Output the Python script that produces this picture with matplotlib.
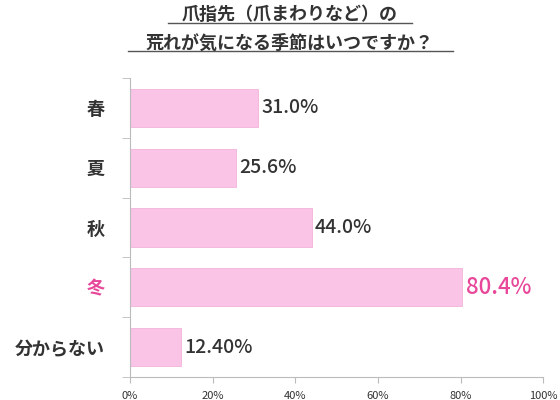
import matplotlib
matplotlib.use("Agg")
import matplotlib.pyplot as plt
from matplotlib.lines import Line2D

plt.rcParams['font.family'] = ['Noto Sans CJK JP', 'DejaVu Sans']

categories = ["春", "夏", "秋", "冬", "分からない"]
values = [31.0, 25.6, 44.0, 80.4, 12.4]
labels = ["31.0%", "25.6%", "44.0%", "80.4%", "12.40%"]
xticks = [0, 20, 40, 60, 80, 100]
xticklabels = ["0%", "20%", "40%", "60%", "80%", "100%"]

pink = "#f9c4e6"
hl = "#e8479a"
dark = "#333333"

fig = plt.figure(figsize=(5.6, 4.0), dpi=100)
ax = fig.add_axes([0.232, 0.0575, 0.738, 0.7475])
y = list(range(len(categories)))
ax.barh(y, values, height=0.64, color=pink, edgecolor="#f2b3da", linewidth=0.6)
ax.set_ylim(len(categories) - 0.5, -0.5)
ax.set_xlim(0, 100)
for i, (v, l) in enumerate(zip(values, labels)):
    c = hl if i == 3 else dark
    fs = 16 if i == 3 else 14
    ax.text(v + 0.8, i, l, va="center", ha="left", color=c, fontsize=fs, fontweight="medium")
ax.set_yticks(y)
ax.set_yticklabels(categories, fontsize=13, fontweight="bold")
for i, t in enumerate(ax.get_yticklabels()):
    t.set_color(hl if i == 3 else dark)
ax.tick_params(axis="y", length=0, pad=18)
ax.set_yticks([i + 0.5 for i in range(-1, len(categories))], minor=True)
ax.tick_params(axis="y", which="minor", length=6, color="#bbbbbb")
ax.set_xticks(xticks)
ax.set_xticklabels(xticklabels, fontsize=8, color=dark)
ax.tick_params(axis="x", length=4, color="#bbbbbb", pad=6)
for s in ["top", "right"]:
    ax.spines[s].set_visible(False)
ax.spines["left"].set_color("#bbbbbb")
ax.spines["bottom"].set_color("#bbbbbb")

fig.text(0.517, 0.963, "爪指先（爪まわりなど）の", ha="center", va="center", fontsize=13, color=dark, fontweight="bold")
fig.text(0.517, 0.893, "荒れが気になる季節はいつですか？", ha="center", va="center", fontsize=13, color=dark, fontweight="bold")
fig.add_artist(Line2D([168/560, 412/560], [0.943, 0.943], color="#555555", lw=1))
fig.add_artist(Line2D([128/560, 453/560], [0.873, 0.873], color="#555555", lw=1))

fig.savefig("out.png", dpi=100)
